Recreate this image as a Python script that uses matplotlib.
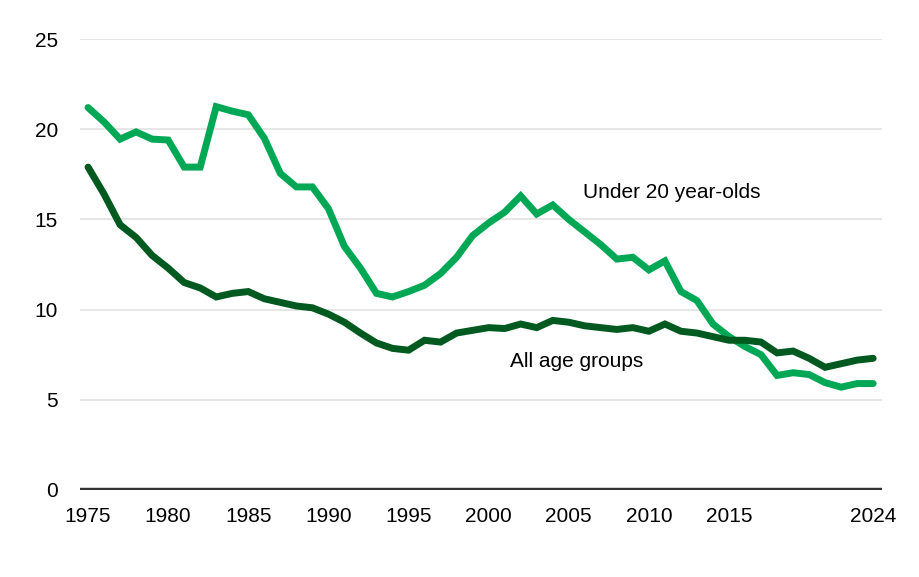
import matplotlib
matplotlib.use("Agg")
import matplotlib.pyplot as plt

plt.rcParams['font.family'] = ['Liberation Sans', 'DejaVu Sans']

years = list(range(1975, 2025))

under_20 = [21.2, 20.4, 19.45, 19.85, 19.45, 19.4, 17.9, 17.9, 21.25, 21.0,
            20.8, 19.5, 17.55, 16.8, 16.8, 15.6, 13.5, 12.3, 10.9, 10.7,
            11.0, 11.35, 12.0, 12.9, 14.1, 14.8, 15.4, 16.3, 15.3, 15.8,
            15.0, 14.3, 13.6, 12.8, 12.9, 12.2, 12.7, 11.0, 10.5, 9.2,
            8.5, 7.95, 7.5, 6.35, 6.5, 6.4, 5.95, 5.7, 5.9, 5.9]

all_ages = [17.9, 16.4, 14.7, 14.0, 13.0, 12.3, 11.5, 11.2, 10.7, 10.9,
            11.0, 10.6, 10.4, 10.2, 10.1, 9.75, 9.3, 8.7, 8.15, 7.85,
            7.75, 8.3, 8.2, 8.7, 8.85, 9.0, 8.95, 9.2, 9.0, 9.4,
            9.3, 9.1, 9.0, 8.9, 9.0, 8.8, 9.2, 8.8, 8.7, 8.5,
            8.3, 8.3, 8.2, 7.6, 7.7, 7.3, 6.8, 7.0, 7.2, 7.3]

xticks = [1975, 1980, 1985, 1990, 1995, 2000, 2005, 2010, 2015, 2024]
yticks = [0, 5, 10, 15, 20, 25]

light_green = '#00A856'
dark_green = '#005A1F'

fig = plt.figure(figsize=(9.2, 5.77), dpi=100)
ax = fig.add_axes([0.087, 0.1508, 0.8717, 0.7816])

for y in yticks[1:]:
    ax.axhline(y, color='#e2e2e2', lw=1.2, zorder=1)
ax.axhline(0, color='#333333', lw=3.2, zorder=2)

ax.plot(years, under_20, color=light_green, lw=5.0, solid_capstyle='round',
        solid_joinstyle='miter', zorder=3, clip_on=False)
ax.plot(years, all_ages, color=dark_green, lw=5.0, solid_capstyle='round',
        solid_joinstyle='miter', zorder=4, clip_on=False)

ax.text(2005.9, 16.5, 'Under 20 year-olds', fontsize=15, ha='left', va='center')
ax.text(2001.35, 7.1, 'All age groups', fontsize=15, ha='left', va='center')

ax.set_xlim(1974.5, 2024.55)
ax.set_ylim(0, 25)
ax.set_xticks(xticks)
ax.set_yticks(yticks)
ax.tick_params(axis='both', length=0, labelsize=15)
ax.tick_params(axis='x', pad=12)
ax.tick_params(axis='y', pad=16)
for s in ax.spines.values():
    s.set_visible(False)

fig.savefig('out.png', dpi=100)
